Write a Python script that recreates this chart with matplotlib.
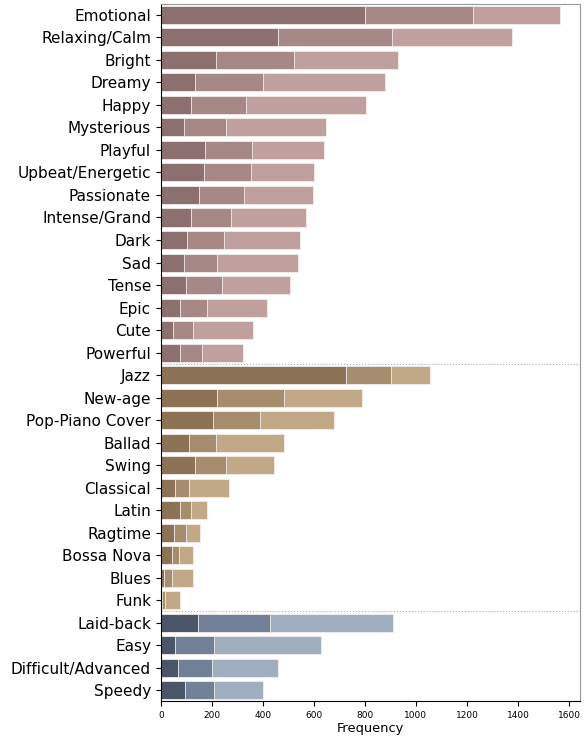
import matplotlib.pyplot as plt
import numpy as np

# mood / genre / difficulty tags, three overlaid counts per tag
mood_labels = ["Emotional", "Relaxing/Calm", "Bright", "Dreamy", "Happy", "Mysterious",
               "Playful", "Upbeat/Energetic", "Passionate", "Intense/Grand", "Dark", "Sad",
               "Tense", "Epic", "Cute", "Powerful"]
mood_low = [800, 459, 217, 132, 118, 92, 173, 169, 148, 118, 103, 89, 97, 75, 46, 77]
mood_mid = [1224, 907, 522, 400, 332, 255, 359, 353, 327, 275, 246, 220, 239, 180, 127, 161]
mood_high = [1565, 1378, 929, 880, 805, 646, 641, 599, 597, 570, 546, 537, 507, 417, 361, 324]

genre_labels = ["Jazz", "New-age", "Pop-Piano Cover", "Ballad", "Swing", "Classical",
                "Latin", "Ragtime", "Bossa Nova", "Blues", "Funk"]
genre_low = [725, 220, 203, 110, 132, 55, 75, 50, 42, 14, 4]
genre_mid = [903, 482, 388, 216, 254, 110, 120, 97, 71, 43, 16]
genre_high = [1055, 790, 677, 481, 443, 268, 180, 152, 128, 125, 77]

diff_labels = ["Laid-back", "Easy", "Difficult/Advanced", "Speedy"]
diff_low = [144, 56, 67, 94]
diff_mid = [426, 208, 200, 207]
diff_high = [911, 627, 461, 401]

groups = [
    (mood_labels, mood_low, mood_mid, mood_high, ["#8c7070", "#a68887", "#c0a09e"]),
    (genre_labels, genre_low, genre_mid, genre_high, ["#8c7355", "#a68d6e", "#c1a987"]),
    (diff_labels, diff_low, diff_mid, diff_high, ["#4a5568", "#718096", "#a0aec0"]),
]

fig = plt.figure(figsize=(5.87, 7.36), dpi=100)
ax = fig.add_axes([0.274, 0.047, 0.714, 0.948])

labels = []
pos = 0
for names, low, mid, high, colors in groups:
    y = np.arange(pos, pos + len(names))
    # widest first so the shorter ones sit on top
    for vals, c in zip([high, mid, low], colors[::-1]):
        ax.barh(y, vals, height=0.8, color=c, edgecolor="#f3eded", linewidth=0.6)
    labels += names
    pos += len(names)
    if pos < len(mood_labels) + len(genre_labels) + len(diff_labels):
        ax.axhline(pos - 0.5, color="#aaaaaa", linestyle=":", linewidth=0.8)

ax.set_yticks(np.arange(len(labels)))
ax.set_yticklabels(labels, fontsize=11)
ax.set_ylim(len(labels) - 0.5, -0.5)
ax.set_xlim(0, 1643)
ax.set_xticks(np.arange(0, 1601, 200))
ax.tick_params(axis="x", labelsize=6.5)
ax.set_xlabel("Frequency", fontsize=9.4, labelpad=1)

for s in ax.spines.values():
    s.set_color("#999999")
ax.spines["left"].set_color("black")
ax.spines["bottom"].set_color("black")

plt.savefig("out.png", dpi=100)
